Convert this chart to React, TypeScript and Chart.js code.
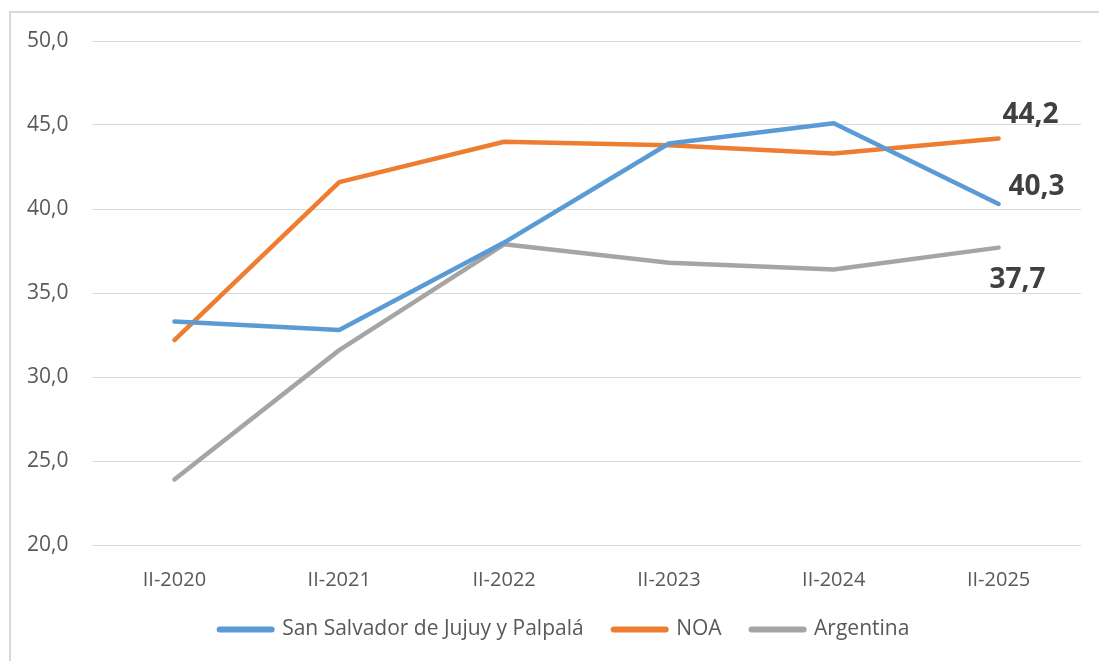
import React, { useEffect, useRef } from "react";
import { Chart, registerables } from "chart.js";

Chart.register(...registerables);

const categories = ["II-2020", "II-2021", "II-2022", "II-2023", "II-2024", "II-2025"];
const jujuyValues = [33.3, 32.8, 38.0, 43.9, 45.1, 40.3];
const noaValues = [32.2, 41.6, 44.0, 43.8, 43.3, 44.2];
const argentinaValues = [23.9, 31.6, 37.9, 36.8, 36.4, 37.7];
const seriesNames = ["San Salvador de Jujuy y Palpalá", "NOA", "Argentina"];
const yTicks = [20, 25, 30, 35, 40, 45, 50];

const fmt = (v: number) => v.toFixed(1).replace(".", ",");

// offsets of the final-value labels per dataset (jujuy, noa, argentina)
const lastLabelOffsets = [
  { dx: 38, dy: -17 },
  { dx: 32, dy: -23 },
  { dx: 19, dy: 32 },
];

const endLabels = {
  id: "endLabels",
  afterDatasetsDraw(chart: any) {
    const ctx = chart.ctx;
    ctx.save();
    ctx.font = "bold 28px 'Open Sans', sans-serif";
    ctx.fillStyle = "#404040";
    ctx.textAlign = "center";
    ctx.textBaseline = "middle";
    chart.data.datasets.forEach((ds: any, i: number) => {
      const meta = chart.getDatasetMeta(i);
      const last = meta.data[meta.data.length - 1];
      const v = ds.data[ds.data.length - 1];
      const off = lastLabelOffsets[i];
      ctx.fillText(fmt(v), last.x + off.dx, last.y + off.dy);
    });
    ctx.restore();
  },
};

export default function App() {
  const ref = useRef<HTMLCanvasElement>(null);
  useEffect(() => {
    const colors = ["#5B9BD5", "#ED7D31", "#A5A5A5"];
    const values = [jujuyValues, noaValues, argentinaValues];
    const chart = new Chart(ref.current!, {
      type: "line",
      data: {
        labels: categories,
        datasets: values.map((d, i) => ({
          label: seriesNames[i],
          data: d,
          borderColor: colors[i],
          backgroundColor: colors[i],
          borderWidth: 4.5,
          pointRadius: 0,
          borderCapStyle: "round" as const,
          borderJoinStyle: "round" as const,
          tension: 0,
        })),
      },
      options: {
        responsive: false,
        animation: false,
        layout: { padding: { top: 41, right: 18, bottom: 11, left: 48 } },
        plugins: {
          tooltip: { enabled: false },
          legend: {
            position: "bottom",
            labels: {
              color: "#595959",
              font: { family: "'Open Sans', sans-serif", size: 21 },
              usePointStyle: true,
              pointStyleWidth: 52,
              boxHeight: 6,
              padding: 30,
              generateLabels: (c: any) =>
                c.data.datasets.map((ds: any, i: number) => ({
                  text: ds.label,
                  fillStyle: ds.borderColor,
                  strokeStyle: ds.borderColor,
                  lineWidth: 6,
                  lineCap: "round",
                  pointStyle: "line",
                  fontColor: "#595959",
                  datasetIndex: i,
                  hidden: false,
                })),
            },
          },
        },
        scales: {
          x: {
            offset: true,
            grid: { display: false },
            border: { display: false },
            afterFit: (s: any) => {
              s.height = 44;
            },
            ticks: {
              color: "#595959",
              font: { family: "'Open Sans', sans-serif", size: 20 },
              padding: 15,
              maxRotation: 0,
            },
          },
          y: {
            min: 20,
            max: 50,
            afterFit: (s: any) => {
              s.width = 44;
            },
            afterBuildTicks: (s: any) => {
              s.ticks = yTicks.map((v) => ({ value: v }));
            },
            grid: { color: "#D9D9D9", lineWidth: 1, drawTicks: false },
            border: { display: false },
            ticks: {
              mirror: true,
              color: "#595959",
              font: { family: "'Open Sans', sans-serif", size: 21 },
              padding: -65,
              callback: (v: any) => fmt(Number(v)),
            },
          },
        },
      },
      plugins: [endLabels],
    });
    return () => chart.destroy();
  }, []);
  return (
    <div style={{ position: "fixed", left: 0, top: 0, width: 1099, height: 661, overflow: "hidden", background: "#fff" }}>
      <div
        style={{
          position: "absolute",
          left: 9,
          top: 11,
          width: 1200,
          height: 800,
          borderTop: "2px solid #D9D9D9",
          borderLeft: "2px solid #D9D9D9",
        }}
      />
      <canvas ref={ref} width={1099} height={661} style={{ position: "absolute", left: 0, top: 0 }} />
    </div>
  );
}
